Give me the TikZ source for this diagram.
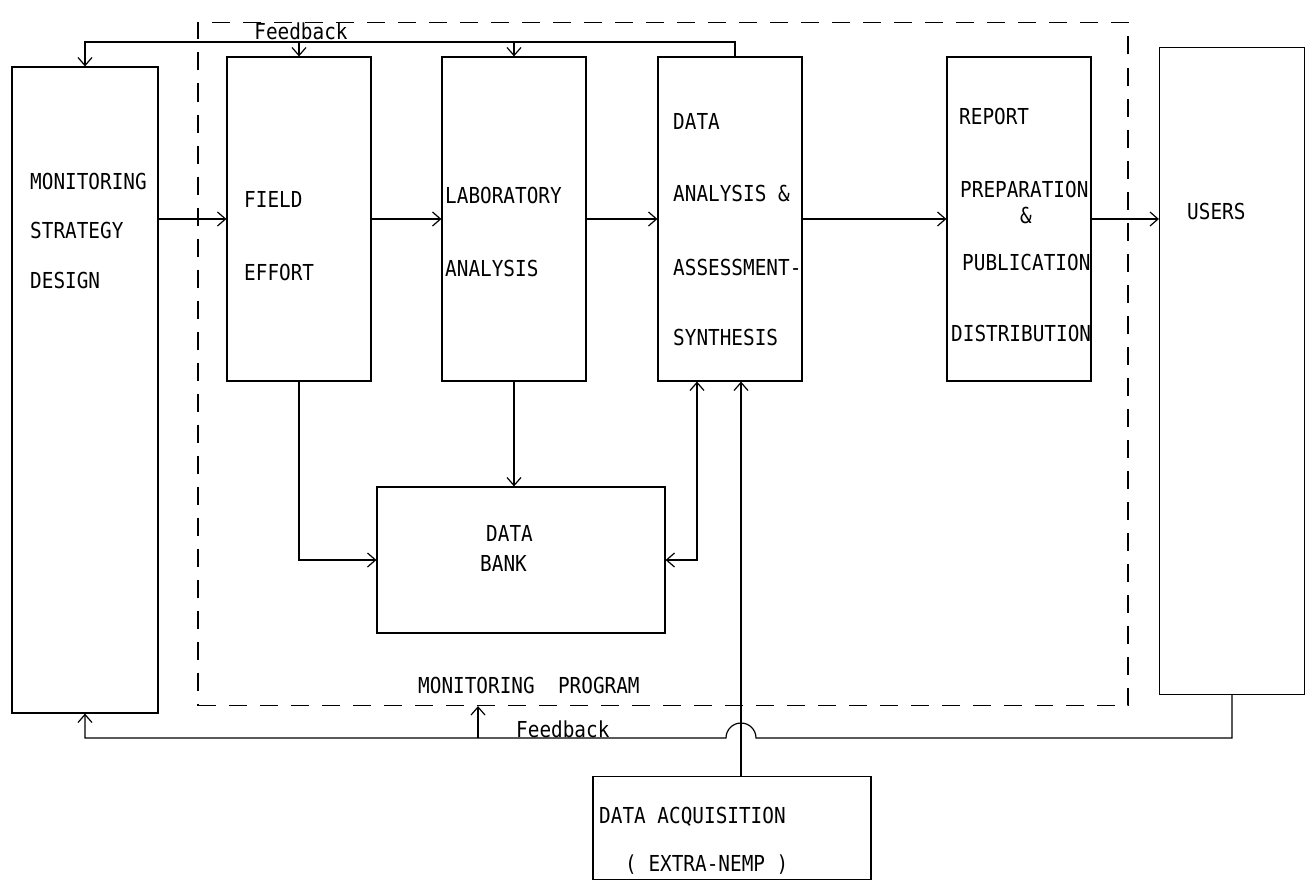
\documentclass[tikz,border=0pt]{standalone}
\usepackage{fontspec}
\newfontfamily\plotter[FakeStretch=0.88]{DejaVu Sans Mono}
\usetikzlibrary{arrows.meta,calc}
\tikzset{
  block/.style={
    draw,
    line width=1.2pt,
    inner sep=0pt,
    minimum width=144pt
  },
  progbox/.style={
    draw,
    line width=1.2pt,
    dash pattern=on 18pt off 13pt,
    inner sep=0pt
  },
  txt/.style={
    anchor=west,
    inner sep=0pt,
    font=\plotter\fontsize{22}{26}\selectfont
  },
  wire/.style={
    line width=1.2pt
  },
  flow/.style={
    wire,
    -{Straight Barb[length=8pt,width=14pt]}
  },
  flowboth/.style={
    wire,
    {Straight Barb[length=8pt,width=14pt]}-{Straight Barb[length=8pt,width=14pt]}
  }
}

\begin{document}
\begin{tikzpicture}[x=1pt,y=-1pt]
        \useasboundingbox (0,0) rectangle (1311,883);
        %boxes
        \node[progbox,minimum width=930pt,minimum height=683pt] (prog) at (663,364) {};
        \node[block,minimum width=146pt,minimum height=646pt] (msd) at (85,390) {};
        \foreach \n/\x in {fe/299,la/514,da/730,rp/1019}{
                \node[block,minimum height=324pt] (\n) at (\x,219) {};
            }
        \node[block,minimum width=145pt,minimum height=647pt] (users) at (1232,371) {};
        \node[block,minimum width=288pt,minimum height=146pt] (db) at (521,560) {};
        \node[block,minimum width=278pt,minimum height=103pt] (dq) at (732,828) {};
        %texts
        \foreach \t/\y [count=\i] in {MONITORING/181,STRATEGY/230,DESIGN/280}
                \node[txt] (msd\i) at (30,\y) {\t};
        \node[txt] (fe1) at (244,199) {FIELD};
        \node[txt] (fe2) at (244,272) {EFFORT};
        \node[txt] (la1) at (445,195) {LABORATORY};
        \node[txt] (la2) at (445,268) {ANALYSIS};
        \foreach \t/\y [count=\i] in {DATA/121,ANALYSIS \&/193,ASSESSMENT-/267,SYNTHESIS/337}
                \node[txt] (da\i) at (673,\y) {\t};
        \node[txt] (rp1) at (959,116) {REPORT};
        \node[txt] (rp2) at (960,189) {PREPARATION};
        \node[txt,anchor=center] (rp3) at (1026,215) {\&};
        \node[txt] (rp4) at (962,262) {PUBLICATION};
        \node[txt] (rp5) at (951,333) {DISTRIBUTION};
        \node[txt] (users1) at (1187,211) {USERS};
        \node[txt] (db1) at (486,533) {DATA};
        \node[txt] (db2) at (480,563) {BANK};
        \node[txt] (dq1) at (599,817) {DATA ACQUISITION};
        \node[txt] (dq2) at (625,865) {( EXTRA-NEMP )};
        \node[txt] (prog1) at (418,685) {MONITORING\ \ PROGRAM};
        \node[txt,anchor=center] (fbtxt1) at (301,31) {Feedback};
        \node[txt] (fbtxt2) at (516,729) {Feedback};
        %main flow
        \draw[flow] (msd.east |- fe.west) -- (fe.west);
        \foreach \a/\b in {fe/la,la/da,da/rp}
                \draw[flow] (\a) -- (\b);
        \draw[flow] (rp.east) -- (rp.east -| users.west);
        \draw[flow] (fe.south) |- (db.west);
        \draw[flow] (la.south) -- (la.south |- db.north);
        \draw[flowboth] ([xshift=-33pt]da.south) |- (db.east);
        \draw[flow] ([xshift=9pt]dq.north) -- ([xshift=9pt]dq.north |- da.south);
        %feedback
        \coordinate (fbtop) at (735,42);
        \draw[flow] ([xshift=5pt]da.north) |- (msd.north |- fbtop) -- (msd.north);
        \foreach \n in {fe,la}
                \draw[flow] (\n.north |- fbtop) -- (\n.north);
        \coordinate (fbbot) at (478,738);
        \draw[flow] (users.south) -- (users.south |- fbbot) -- (756,738)
                arc[start angle=0,end angle=180,radius=15pt] -- (msd.south |- fbbot) -- (msd.south);
        \draw[flow] (fbbot) -- (fbbot |- prog.south);
    \end{tikzpicture}
\end{document}
